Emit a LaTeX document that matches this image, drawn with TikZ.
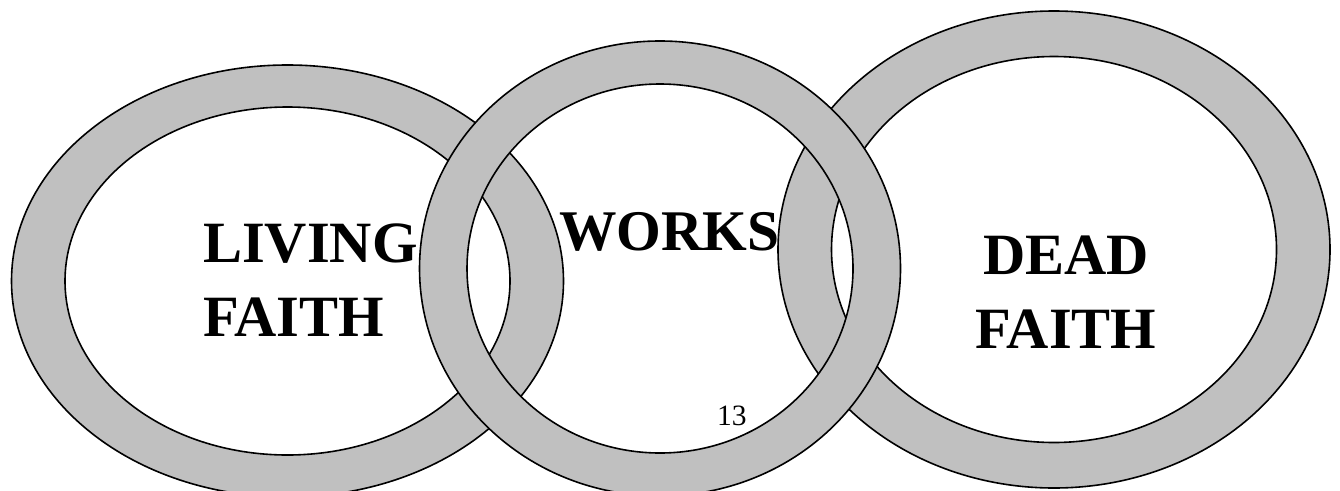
\documentclass[tikz,border=0pt]{standalone}
\usepackage{fontspec}
\setmainfont{Liberation Serif}
\definecolor{ringgray}{RGB}{192,192,192}
\begin{document}
\begin{tikzpicture}[x=1pt,y=-1pt,
  ring/.style={fill=ringgray, draw=black, line width=1.6pt, even odd rule},
  bigtext/.style={font=\bfseries\fontsize{58.5}{73.5}\selectfont, inner sep=0pt, text=black},
  smalltext/.style={font=\fontsize{29.5}{35}\selectfont, inner sep=0pt, text=black}]
\useasboundingbox (0,0) rectangle (1340,490);
\begin{scope}
\clip (0,0) rectangle (1340,490);
% left ring
\path[ring] (287.5,281) ellipse [x radius=276pt, y radius=216pt]
            (287.5,281) ellipse [x radius=222.5pt, y radius=174pt];
% right ring
\path[ring] (1054,249.5) ellipse [x radius=276pt, y radius=238.5pt]
            (1054,249.5) ellipse [x radius=222.5pt, y radius=193pt];
% middle ring (on top)
\path[ring] (660,268.5) ellipse [x radius=240.5pt, y radius=227.5pt]
            (660,268.5) ellipse [x radius=193pt, y radius=184.5pt];
\end{scope}
\node[bigtext, align=left, anchor=north west] (living) at (203,224) {LIVING\\FAITH};
\node[bigtext, anchor=base west, font=\bfseries\fontsize{57.5}{70}\selectfont] (works) at (559,250) {WORKS};
\node[bigtext, align=center, anchor=north] (dead) at (1066,236) {DEAD\\FAITH};
\node[smalltext, anchor=base west] (pagenum) at (717,425) {13};
\end{tikzpicture}
\end{document}
